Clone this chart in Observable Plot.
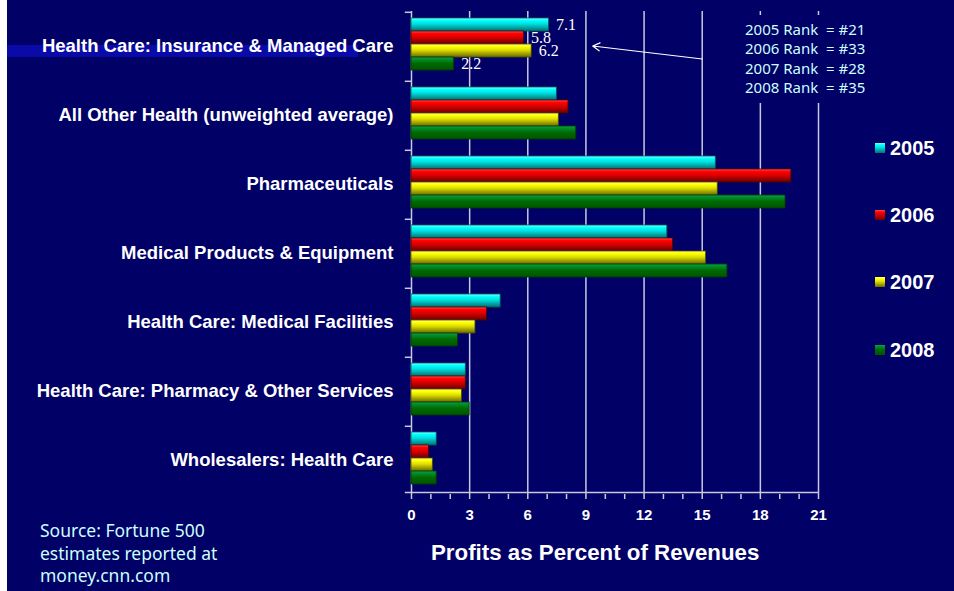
<!DOCTYPE html>
<html>
<head>
<meta charset="utf-8">
<script src="https://cdn.jsdelivr.net/npm/d3@7"></script>
<script src="https://cdn.jsdelivr.net/npm/@observablehq/plot@0.6"></script>
<style>
  html, body { margin: 0; padding: 0; background: #ffffff; }
  #wrap { position: relative; width: 954px; height: 591px; background: #000066; overflow: hidden; }
  #leftStrip { position: absolute; left: 0; top: 0; width: 7px; height: 591px; background: #ffffff; z-index: 5; }
  #stripe { position: absolute; left: 7px; top: 45px; width: 351px; height: 12px; background: #0a0aa8; z-index: 0; }
  #chart { position: absolute; left: 0; top: 0; z-index: 1; }
  #rank { position: absolute; left: 738px; top: 15px; width: 140px; height: 88px; background: #000066; z-index: 2;
          font-family: "Noto Sans", sans-serif; font-size: 15px; line-height: 19.3px; color: #ccffff;
          box-sizing: border-box; padding: 5px 0 0 7px; white-space: pre; }
  #legend { position: absolute; left: 875px; top: 0; z-index: 2; }
  .leg { position: absolute; left: 0; display: flex; align-items: center; white-space: nowrap; }
  .sw { width: 10px; height: 10px; margin-right: 5px; }
  .lt { font-family: "Liberation Sans", Arial, sans-serif; font-weight: bold; font-size: 20px; color: #ffffff; }
  #xlabel { position: absolute; left: 431px; top: 540px; z-index: 2; font-family: "Liberation Sans", Arial, sans-serif;
            font-weight: bold; font-size: 22.3px; color: #ffffff; white-space: nowrap; }
  #source { position: absolute; left: 40px; top: 519px; z-index: 2; font-family: "Noto Sans", sans-serif;
            font-size: 17.5px; line-height: 22.5px; color: #ccffff; white-space: pre; }
</style>
</head>
<body>
<svg width="0" height="0" style="position:absolute">
  <defs>
    <linearGradient id="g2005" x1="0" y1="0" x2="0" y2="1">
      <stop offset="0" stop-color="#7fffff"/><stop offset="0.2" stop-color="#00ffff"/>
      <stop offset="0.45" stop-color="#00e0e0"/><stop offset="1" stop-color="#007070"/>
    </linearGradient>
    <linearGradient id="g2006" x1="0" y1="0" x2="0" y2="1">
      <stop offset="0" stop-color="#ff5050"/><stop offset="0.2" stop-color="#ff0000"/>
      <stop offset="0.45" stop-color="#e00000"/><stop offset="1" stop-color="#6a0000"/>
    </linearGradient>
    <linearGradient id="g2007" x1="0" y1="0" x2="0" y2="1">
      <stop offset="0" stop-color="#ffff7f"/><stop offset="0.2" stop-color="#ffff00"/>
      <stop offset="0.45" stop-color="#e0e000"/><stop offset="1" stop-color="#6a6a00"/>
    </linearGradient>
    <linearGradient id="g2008" x1="0" y1="0" x2="0" y2="1">
      <stop offset="0" stop-color="#10a040"/><stop offset="0.2" stop-color="#008a2a"/>
      <stop offset="0.5" stop-color="#006a00"/><stop offset="1" stop-color="#005400"/>
    </linearGradient>
  </defs>
</svg>
<div id="wrap">
  <div id="leftStrip"></div>
  <div id="stripe"></div>
  <div id="chart"></div>
  <div id="rank"></div>
  <div id="legend"></div>
  <div id="xlabel"></div>
  <div id="source"></div>
</div>
<script>
// ---- data ----
const categories = [
  "Health Care: Insurance & Managed Care",
  "All Other Health (unweighted average)",
  "Pharmaceuticals",
  "Medical Products & Equipment",
  "Health Care: Medical Facilities",
  "Health Care: Pharmacy & Other Services",
  "Wholesalers: Health Care"
];
const years = ["2005", "2006", "2007", "2008"];
const values2005 = [7.1, 7.5, 15.7, 13.2, 4.6, 2.8, 1.3];
const values2006 = [5.8, 8.1, 19.6, 13.5, 3.9, 2.8, 0.9];
const values2007 = [6.2, 7.6, 15.8, 15.2, 3.3, 2.6, 1.1];
const values2008 = [2.2, 8.5, 19.3, 16.3, 2.4, 3.0, 1.3];
const xTickLabels = [0, 3, 6, 9, 12, 15, 18, 21];
const xMinorTicks = [0,1,2,3,4,5,6,7,8,9,10,11,12,13,14,15,16,17,18,19,20,21];
const rankLines = ["2005 Rank  = #21", "2006 Rank  = #33", "2007 Rank  = #28", "2008 Rank  = #35"];
const xTitle = "Profits as Percent of Revenues";
const sourceLines = ["Source: Fortune 500", "estimates reported at", "money.cnn.com"];
const labeledCategory = categories[0];
const arrowFrom = 15, arrowTo = 9.35;

// ---- build table ----
const seriesByYear = {"2005": values2005, "2006": values2006, "2007": values2007, "2008": values2008};
const rows = [];
categories.forEach((c, i) => years.forEach(y => rows.push({category: c, year: y, value: seriesByYear[y][i]})));
const edgeColor = {"2005": "#005a5a", "2006": "#500000", "2007": "#505000", "2008": "#003a00"};
const swatchCss = {
  "2005": "linear-gradient(#7fffff, #00ffff 20%, #00e0e0 45%, #007070)",
  "2006": "linear-gradient(#ff5050, #ff0000 20%, #e00000 45%, #6a0000)",
  "2007": "linear-gradient(#ffff7f, #ffff00 20%, #e0e000 45%, #6a6a00)",
  "2008": "linear-gradient(#10a040, #008a2a 20%, #006a00 50%, #005400)"
};
const axisGray = "#c8c8e0";

const chart = Plot.plot({
  width: 954,
  height: 591,
  marginLeft: 411,
  marginRight: 136,
  marginTop: 10,
  marginBottom: 96,
  style: {background: "transparent", color: "#ffffff", fontFamily: "'Liberation Sans', Arial, sans-serif", overflow: "visible"},
  x: {domain: [0, 21], axis: null},
  y: {domain: years, paddingInner: 0, paddingOuter: 0.47, align: 0.43, axis: null},
  fy: {domain: categories, padding: 0, axis: null},
  color: {type: "identity"},
  marks: [
    Plot.gridX(xTickLabels.slice(1), {stroke: axisGray, strokeOpacity: 1, strokeWidth: 1.5}),
    Plot.ruleX([0], {stroke: axisGray, strokeWidth: 1.5}),
    Plot.ruleY(categories, {fy: d => d, y: () => years[0], x1: -0.32, x2: 0, dy: -12.7, stroke: axisGray, strokeWidth: 1.5}),
    Plot.ruleY([categories[categories.length - 1]], {fy: d => d, y: () => years[3], x1: -0.32, x2: 21, dy: 14.6, stroke: axisGray, strokeWidth: 1.5}),
    Plot.axisFy({anchor: "left", tickSize: 0, tickPadding: 18, fontSize: 18.5, fontWeight: "bold", label: null}),
    Plot.barX(rows, {x: "value", y: "year", fy: "category", fill: d => `url(#g${d.year})`, stroke: d => edgeColor[d.year], strokeWidth: 0.8}),
    Plot.text(rows.filter(d => d.category === labeledCategory), {
      x: "value", y: "year", fy: "category", text: d => d.value.toFixed(1), dx: 7, textAnchor: "start",
      fill: "#ffffff", fontFamily: "'Liberation Serif', 'Times New Roman', serif", fontSize: 16
    }),
    Plot.arrow([labeledCategory], {fy: d => d, x1: () => arrowFrom, x2: () => arrowTo, y1: () => years[3], y2: () => years[2], dy: -5,
      stroke: "#ffffff", strokeWidth: 1.2, headLength: 10}),
    Plot.axisX(xMinorTicks, {tickSize: 5, tickFormat: () => "", stroke: axisGray, strokeWidth: 1.5, label: null}),
    Plot.axisX(xTickLabels, {tickSize: 0, tickPadding: 15, fontSize: 15, fontWeight: "bold", label: null})
  ]
});
document.getElementById("chart").appendChild(chart);

document.getElementById("rank").textContent = rankLines.join("\n");
document.getElementById("xlabel").textContent = xTitle;
document.getElementById("source").textContent = sourceLines.join("\n");

const legendCenters = [148, 215, 282, 350];
const legend = document.getElementById("legend");
years.forEach((y, i) => {
  const item = document.createElement("div");
  item.className = "leg";
  item.style.top = (legendCenters[i] - 12) + "px";
  item.style.height = "24px";
  const sw = document.createElement("div");
  sw.className = "sw";
  sw.style.background = swatchCss[y];
  const t = document.createElement("span");
  t.className = "lt";
  t.textContent = y;
  item.appendChild(sw);
  item.appendChild(t);
  legend.appendChild(item);
});
</script>
</body>
</html>
